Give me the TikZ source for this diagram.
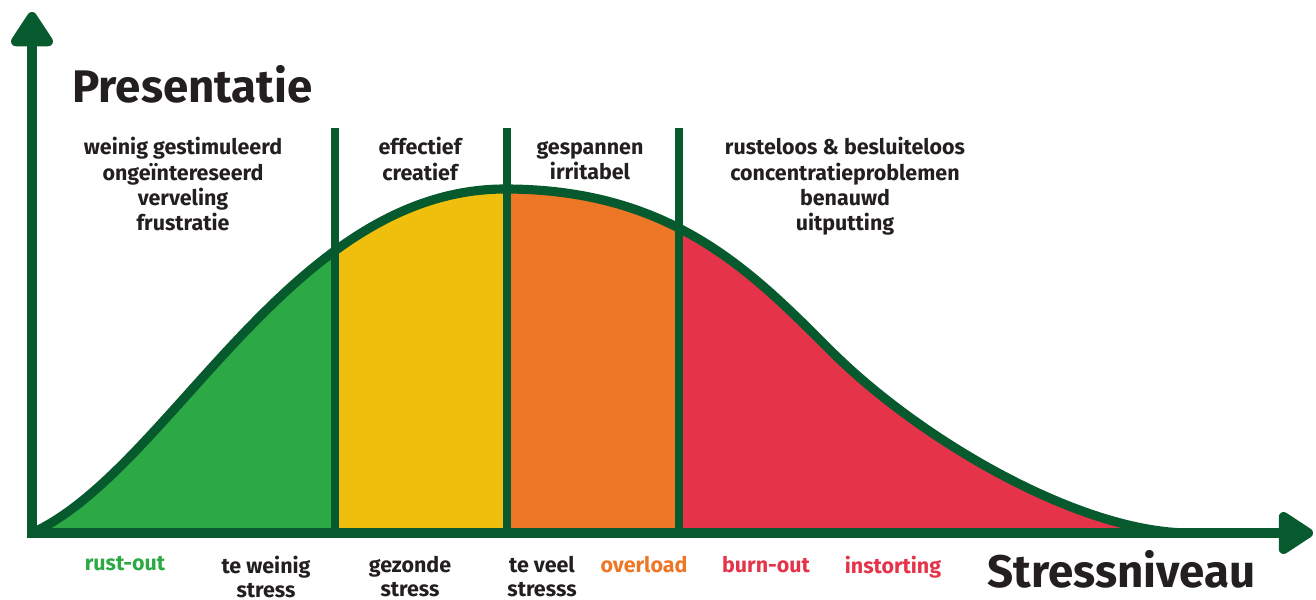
\documentclass[tikz,border=0pt]{standalone}
\usepackage{fontspec}
\setmainfont{Fira Sans}
\usetikzlibrary{arrows.meta}
\definecolor{axisgreen}{HTML}{07592E}
\definecolor{zonegreen}{HTML}{2CA844}
\definecolor{zoneyellow}{HTML}{F0BE0C}
\definecolor{zoneorange}{HTML}{ED7726}
\definecolor{zonered}{HTML}{E53349}
\definecolor{labelgray}{HTML}{231F20}
\tikzset{
axis/.style={
  draw=axisgreen,
  line width=5.7pt,
  {Triangle[length=22pt,width=27pt,round]}-{Triangle[length=22pt,width=27pt,round]}
  },
divider/.style={draw=axisgreen, line width=4.2pt},
curveline/.style={draw=axisgreen, line width=5.2pt, line join=round},
moodtext/.style={
  font=\bfseries\fontsize{12.2}{14.4}\selectfont,
  align=center, text=labelgray, inner sep=0pt, anchor=north
  },
zonetext/.style={
  font=\bfseries\fontsize{12.2}{13.6}\selectfont,
  align=center, inner sep=0pt, anchor=north
  },
axistitle/.style={
  font=\bfseries\fontsize{26}{30}\selectfont,
  text=labelgray, inner sep=0pt, anchor=base west
  }
}

\begin{document}
\begin{tikzpicture}[x=0.02cm, y=-0.02cm]
\useasboundingbox (0,0) rectangle (1316,599);

\coordinate (origin)	at (32,533);
\coordinate (ytip)		at (32,12);
\coordinate (xtip)		at (1313,533);
\coordinate (peak)		at (505,189);
\coordinate (bend)		at (830,350);
\coordinate (tail)		at (1190,533);

% coloured zones under the curve
\begin{scope}
\clip (origin) .. controls (170,470) and (290,189) .. (peak)
  .. controls (671,189) and (751,271) .. (bend)
  .. controls (920,440) and (1080,533) .. (tail) -- cycle;
\fill[zonegreen]	(32,100) rectangle (335,540);
\fill[zoneyellow]	(335,100) rectangle (507,540);
\fill[zoneorange]	(507,100) rectangle (679,540);
\fill[zonered]		(679,100) rectangle (1250,540);
\end{scope}

\draw[curveline] (origin) .. controls (170,470) and (290,189) .. (peak)
  .. controls (671,189) and (751,271) .. (bend)
  .. controls (920,440) and (1080,533) .. (tail);

\foreach \x/\n in {335/a, 507/b, 679/c}{
  \coordinate (div\n) at (\x,128);
  \draw[divider] (div\n) -- (div\n |- origin);
}

\draw[axis] (ytip) -- (origin) -- (xtip);

\node[axistitle]	(ylabel)	at (72,102)		{Presentatie};
\node[axistitle]	(xlabel)	at (987,587)	{Stressniveau};

\node[moodtext]	(bored)		at (183,137)	{weinig gestimuleerd\\ongeïntereseerd\\verveling\\frustratie};
\node[moodtext]	(effective)	at (420,137)	{effectief\\creatief};
\node[moodtext]	(tense)		at (590,141)	{gespannen\\irritabel};
\node[moodtext]	(restless)	at (845,137)	{rusteloos \& besluiteloos\\concentratieproblemen\\benauwd\\uitputting};

\node[zonetext, text=zonegreen]		(rustout)	at (125,556)	{rust-out};
\node[zonetext, text=labelgray]		(toolittle)	at (266,556)	{te weinig\\stress};
\node[zonetext, text=labelgray]		(healthy)	at (410,556)	{gezonde\\stress};
\node[zonetext, text=labelgray]		(toomuch)	at (542,556)	{te veel\\stresss};
\node[zonetext, text=zoneorange]	(overload)	at (644,556)	{overload};
\node[zonetext, text=zonered]		(burnout)	at (766,556)	{burn-out};
\node[zonetext, text=zonered]		(collapse)	at (893,556)	{instorting};
\end{tikzpicture}
\end{document}
